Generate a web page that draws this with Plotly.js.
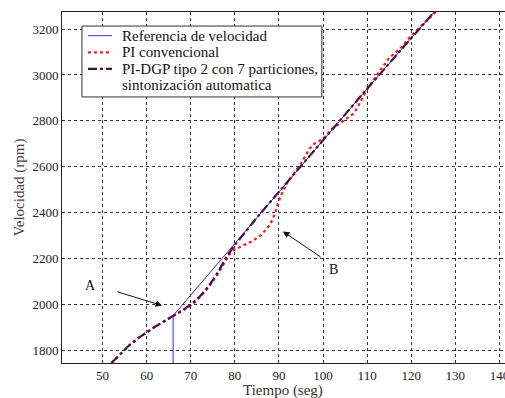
<!DOCTYPE html>
<html>
<head>
<meta charset="utf-8">
<script src="https://cdn.plot.ly/plotly-3.0.1.min.js"></script>
<style>html,body{margin:0;padding:0;overflow:hidden;background:#fff;}</style>
</head>
<body>
<div id="chart"></div>
<script>
// Reference speed (blue)
const refT = [66, 66, 80, 90, 100, 110, 120, 126];
const refV = [1600, 1952, 2266, 2492, 2718, 2940, 3160, 3292];

// PI conventional (red dotted)
const piT = [52, 54, 56, 58, 60, 62, 64, 66, 68, 70, 72, 74, 76, 78, 79, 80, 82, 84, 86, 87, 88, 89, 90, 91, 92, 93, 94, 95, 96, 97, 98, 99, 100, 101, 102, 103, 104, 105, 106, 107, 108, 109, 110, 111, 112, 113, 114, 115, 116, 117, 118, 119, 120, 121, 122, 123, 124, 125, 126];
const piV = [1746, 1786, 1822, 1853, 1880, 1905, 1928, 1950, 1970, 1995, 2030, 2075, 2130, 2195, 2225, 2240, 2257, 2277, 2304, 2325, 2348, 2392, 2452, 2498, 2535, 2558, 2585, 2615, 2648, 2680, 2700, 2712, 2722, 2742, 2765, 2778, 2792, 2803, 2817, 2833, 2865, 2905, 2938, 2965, 2995, 3022, 3047, 3075, 3090, 3105, 3123, 3150, 3170, 3188, 3208, 3228, 3245, 3262, 3282];

// PI-DGP type 2, 7 partitions (purple dash-dot)
const dgpT = [52, 54, 56, 58, 60, 62, 64, 66, 68, 70, 72, 74, 76, 78, 80, 85, 90, 95, 100, 105, 110, 115, 120, 126];
const dgpV = [1746, 1786, 1822, 1853, 1880, 1905, 1928, 1950, 1974, 2000, 2035, 2078, 2136, 2205, 2260, 2379, 2492, 2605, 2718, 2829, 2940, 3050, 3160, 3292];

const xTicks = [50, 60, 70, 80, 90, 100, 110, 120, 130, 140];
const yTicks = [1800, 2000, 2200, 2400, 2600, 2800, 3000, 3200];

const names = ["Referencia de velocidad", "PI convencional", "PI-DGP tipo 2 con 7 particiones,", "sintonización automatica"];
const xTitle = "Tiempo (seg)";
const yTitle = "Velocidad (rpm)";
const colors = ["#2b2bff", "#ff1a1a", "#4a0f50"];
const dashes = ["solid", "dot", "dashdot"];
const widths = [1, 2.2, 2.2];

const serif = "Liberation Serif, Times New Roman, serif";

const traces = [
  {x: refT, y: refV, mode: "lines", name: names[0], line: {color: colors[0], width: widths[0]}},
  {x: piT, y: piV, mode: "lines", name: names[1], line: {color: colors[1], width: widths[1], dash: dashes[1]}},
  {x: dgpT, y: dgpV, mode: "lines", name: names[2] + " " + names[3], line: {color: colors[2], width: widths[2], dash: dashes[2]}}
];

const axisCommon = {
  showline: true, mirror: true, linecolor: "#222", linewidth: 1,
  showgrid: true, gridcolor: "#333", gridwidth: 1, griddash: "3px,3px",
  zeroline: false, ticks: "", tickfont: {family: serif, size: 13, color: "#222"}
};

// custom legend (box, samples, labels) in plot-area paper coordinates
const lgBox = {x0: 0.0446, x1: 0.580, y0: 0.758, y1: 0.960};
const lgSampleX = [0.058, 0.1116];
const lgTextX = 0.1295;
const lgRowsY = [0.9325, 0.885, 0.838, 0.791];

const shapes = [
  {type: "rect", xref: "paper", yref: "paper", x0: lgBox.x0, x1: lgBox.x1, y0: lgBox.y0, y1: lgBox.y1,
   line: {color: "#333", width: 1}, fillcolor: "#fff", layer: "above"}
];
for (let i = 0; i < 3; i++) {
  shapes.push({type: "line", xref: "paper", yref: "paper", x0: lgSampleX[0], x1: lgSampleX[1], y0: lgRowsY[i], y1: lgRowsY[i],
    line: {color: colors[i], width: widths[i], dash: dashes[i]}, layer: "above"});
}

const annotations = [
  {x: 47.3, y: 2083, xref: "x", yref: "y", text: "A", showarrow: false, font: {family: serif, size: 14, color: "#111"}},
  {x: 63.5, y: 1996, ax: 53, ay: 2058, xref: "x", yref: "y", axref: "x", ayref: "y", text: "", showarrow: true, arrowhead: 2, arrowsize: 1.3, arrowwidth: 1, arrowcolor: "#111"},
  {x: 102.4, y: 2155, xref: "x", yref: "y", text: "B", showarrow: false, font: {family: serif, size: 14, color: "#111"}},
  {x: 90.9, y: 2319, ax: 99.8, ay: 2203, xref: "x", yref: "y", axref: "x", ayref: "y", text: "", showarrow: true, arrowhead: 2, arrowsize: 1.3, arrowwidth: 1, arrowcolor: "#111"},
  // x-axis title
  {x: 0.493, y: -0.077, xref: "paper", yref: "paper", xanchor: "center", yanchor: "middle",
   text: xTitle, showarrow: false, font: {family: serif, size: 15, color: "#333"}}
];
for (let i = 0; i < 4; i++) {
  annotations.push({x: lgTextX, y: lgRowsY[i], xref: "paper", yref: "paper", xanchor: "left", yanchor: "middle",
    text: names[i], showarrow: false, font: {family: serif, size: 15, color: "#111"}});
}

const layout = {
  width: 512, height: 398, autosize: false,
  margin: {l: 62, r: 2, t: 12, b: 35},
  paper_bgcolor: "#fff", plot_bgcolor: "#fff",
  font: {family: serif, size: 13, color: "#222"},
  showlegend: false,
  xaxis: Object.assign({}, axisCommon, {
    range: [40.8, 142.4], tickvals: xTicks, ticktext: xTicks.map(String)
  }),
  yaxis: Object.assign({}, axisCommon, {
    range: [1746, 3274], tickvals: yTicks, ticktext: yTicks.map(String),
    title: {text: yTitle, font: {family: serif, size: 15, color: "#444"}, standoff: 4}
  }),
  shapes: shapes,
  annotations: annotations
};

Plotly.newPlot("chart", traces, layout, {displayModeBar: false, staticPlot: true});
</script>
</body>
</html>
